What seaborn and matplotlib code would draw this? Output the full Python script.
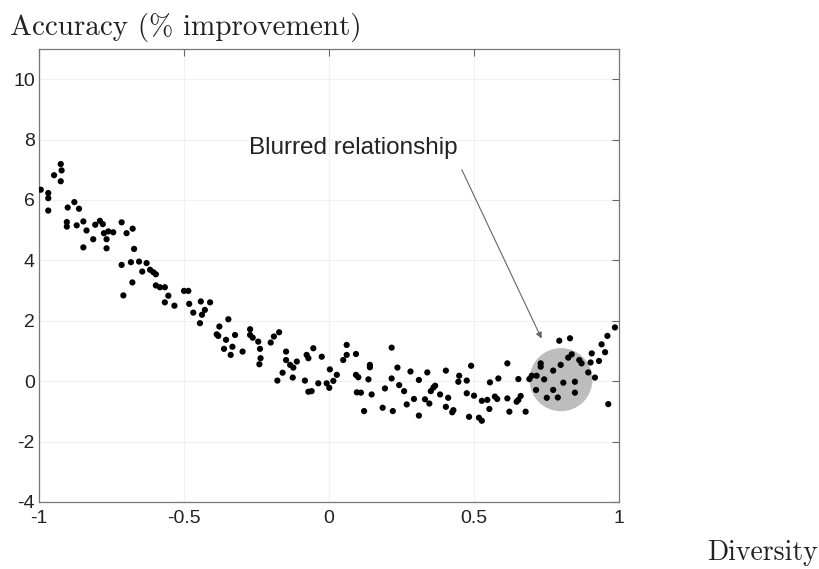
import numpy as np
import pandas as pd
import matplotlib
matplotlib.use("Agg")
import matplotlib.pyplot as plt
import seaborn as sns
from matplotlib.patches import Ellipse

# diversity vs accuracy gain
diversity = [
    -0.994, -0.968, -0.968, -0.968, -0.948, -0.925, -0.922, -0.925, -0.901, -0.878,
    -0.862, -0.904, -0.904, -0.870, -0.847, -0.836, -0.847, -0.813, -0.806, -0.790,
    -0.780, -0.776, -0.767, -0.767, -0.761, -0.744, -0.715, -0.698, -0.677, -0.672,
    -0.715, -0.683, -0.655, -0.629, -0.644, -0.617, -0.606, -0.597, -0.678, -0.709,
    -0.597, -0.583, -0.566, -0.554, -0.566, -0.533, -0.500, -0.485, -0.482, -0.442,
    -0.410, -0.468, -0.428, -0.438, -0.445, -0.347, -0.378, -0.387, -0.382, -0.355,
    -0.324, -0.362, -0.333, -0.339, -0.298, -0.272, -0.272, -0.263, -0.244, -0.238,
    -0.236, -0.240, -0.172, -0.190, -0.201, -0.148, -0.148, -0.134, -0.111, -0.123,
    -0.160, -0.178, -0.125, -0.083, -0.077, -0.071, -0.054, -0.071, -0.025, 0.061,
    0.061, 0.049, 0.093, 0.003, 0.027, 0.015, -0.008, 0.001, -0.037, -0.060,
    0.141, 0.141, 0.093, 0.101, 0.136, 0.096, 0.110, 0.147, 0.121, 0.216,
    0.236, 0.216, 0.242, 0.193, 0.259, 0.185, 0.220, 0.268, 0.281, 0.310,
    0.293, 0.339, 0.366, 0.360, 0.351, 0.383, 0.331, 0.346, 0.310, 0.403,
    0.411, 0.403, 0.429, 0.425, 0.490, 0.449, 0.446, 0.475, 0.475, 0.500,
    0.483, 0.517, 0.527, 0.527, 0.546, 0.553, 0.555, 0.584, 0.572, 0.580,
    0.615, 0.615, 0.622, 0.653, 0.678, 0.653, 0.661, 0.647, 0.691, 0.699,
    0.716, 0.730, 0.730, 0.742, 0.714, 0.751, 0.773, 0.789, 0.773, 0.799,
    0.808, 0.825, 0.837, 0.848, 0.848, 0.863, 0.871, 0.894, 0.917, 0.902,
    0.906, 0.931, 0.952, 0.940, 0.960, 0.986, 0.963, 0.794, 0.831,
]
accuracy = [
    6.34, 6.23, 6.06, 5.65, 6.82, 7.19, 6.98, 6.62, 5.75, 5.93,
    5.71, 5.27, 5.12, 5.16, 5.29, 4.99, 4.43, 4.70, 5.18, 5.31,
    5.20, 4.90, 4.70, 4.40, 4.96, 4.93, 5.26, 4.90, 5.05, 4.38,
    3.85, 3.94, 3.96, 3.91, 3.63, 3.69, 3.61, 3.54, 3.27, 2.84,
    3.17, 3.11, 3.11, 2.83, 2.61, 2.50, 2.99, 2.99, 2.56, 2.64,
    2.61, 2.27, 2.36, 2.20, 1.92, 2.05, 1.81, 1.55, 1.50, 1.37,
    1.53, 1.07, 1.14, 0.87, 0.98, 1.72, 1.53, 1.44, 1.31, 1.07,
    0.76, 0.56, 1.62, 1.48, 1.28, 0.98, 0.70, 0.54, 0.65, 0.45,
    0.28, 0.02, 0.12, 0.02, 0.87, -0.35, 1.09, 0.76, 0.81, 1.20,
    0.87, 0.70, 0.90, 0.39, 0.21, 0.01, -0.07, -0.22, -0.07, -0.33,
    0.54, 0.46, 0.21, 0.13, 0.06, -0.37, -0.38, -0.44, -0.99, 1.11,
    0.45, 0.09, -0.13, -0.24, -0.33, -0.88, -0.99, -0.77, 0.32, 0.04,
    -0.59, 0.29, -0.15, -0.21, -0.33, -0.44, -0.60, -0.74, -1.14, 0.35,
    -0.55, -0.85, -0.96, -1.03, 0.51, 0.18, -0.02, 0.02, -0.40, -0.48,
    -1.18, -1.21, -1.31, -0.65, -0.62, -0.92, -0.04, 0.09, -0.51, -0.59,
    0.59, -0.57, -1.01, 0.07, -1.01, -0.62, -0.49, -0.68, 0.07, 0.18,
    0.18, 0.59, 0.48, 0.06, -0.29, -0.55, -0.29, -0.54, 0.35, 0.54,
    -0.05, 0.78, 0.89, -0.02, -0.38, 0.70, 0.59, 0.29, 0.12, 0.62,
    0.92, 0.67, 0.96, 1.22, 1.50, 1.78, -0.76, 1.34, 1.42,
]

df = pd.DataFrame({"Diversity": diversity, "Accuracy": accuracy})

sns.set_style("white")
plt.rcParams["font.family"] = ["Liberation Sans", "DejaVu Sans"]

fig = plt.figure(figsize=(8.19, 5.69), dpi=100)
ax = fig.add_axes([0.0476, 0.1178, 0.7082, 0.7961])

# highlighted region
ax.add_patch(Ellipse((0.8, 0.05), width=0.217, height=2.09,
                     facecolor="#bdbdbd", edgecolor="none", zorder=1))

sns.scatterplot(data=df, x="Diversity", y="Accuracy", ax=ax, color="black",
                s=20, edgecolor="none", zorder=3)

ax.annotate("", xy=(0.733, 1.41), xytext=(0.458, 7.0),
            arrowprops=dict(arrowstyle="-|>", color="#666666", lw=0.8,
                            mutation_scale=9, shrinkA=0, shrinkB=0), zorder=4)
ax.text(0.085, 7.71, "Blurred relationship", ha="center", va="center",
        fontsize=17.5, color="#222222")

ax.set_xlim(-1, 1)
ax.set_ylim(-4, 11)
ax.set_xticks([-1, -0.5, 0, 0.5, 1])
ax.set_xticklabels(["-1", "-0.5", "0", "0.5", "1"])
ax.set_yticks(range(-4, 11, 2))
ax.set_yticklabels([str(v) for v in range(-4, 11, 2)])
ax.grid(True, color="#f1f1f1", lw=0.8)
ax.set_axisbelow(True)
ax.tick_params(direction="in", length=5, width=0.8, color="#666666",
               top=True, right=True, labelsize=14, pad=3, labelcolor="#222222")
ax.tick_params(axis="x", pad=6)
for sp in ax.spines.values():
    sp.set_color("#777777")
    sp.set_linewidth(0.9)
ax.set_xlabel("")
ax.set_ylabel("")

fig.text(0.012, 0.951, "Accuracy (% improvement)", family="cmr10",
         fontsize=21, ha="left", va="center", color="#222222")
fig.text(0.999, 0.028, "Diversity", family="cmr10",
         fontsize=20, ha="right", va="center", color="#222222")

fig.savefig("out.png", dpi=100)
